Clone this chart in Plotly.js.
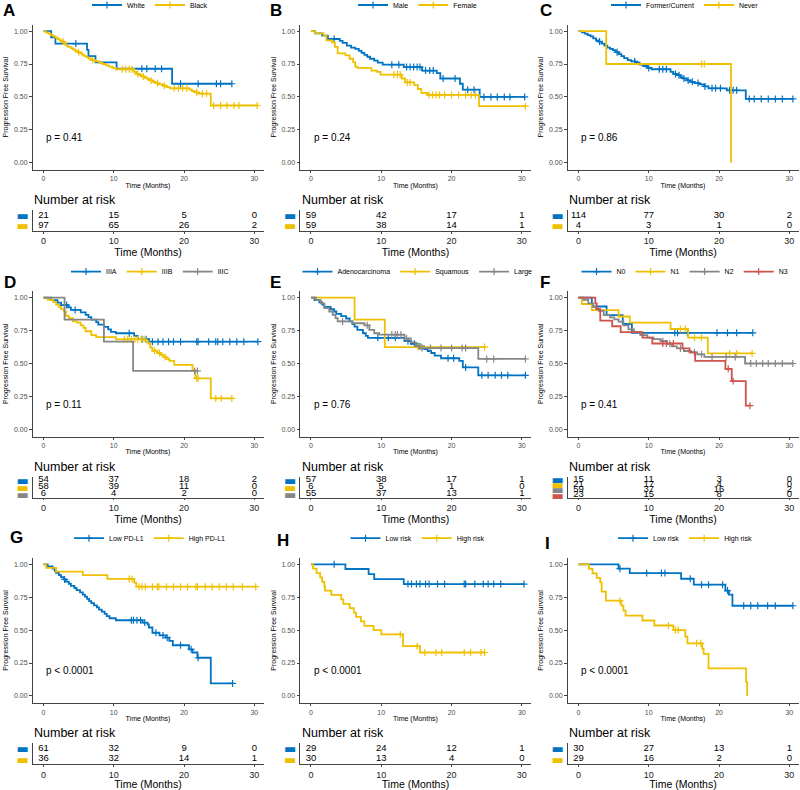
<!DOCTYPE html>
<html>
<head>
<meta charset="utf-8">
<script src="https://cdn.plot.ly/plotly-3.0.1.min.js"></script>
<style>html,body{margin:0;padding:0;background:#fff;}#chart{width:800px;height:790px;}</style>
</head>
<body>
<div id="chart"></div>
<script>
// ================= DATA =================
const xTicks = [0, 10, 20, 30];
const yTicks = [0, 0.25, 0.5, 0.75, 1];
const panelLetters = ['A', 'B', 'C', 'D', 'E', 'F', 'G', 'H', 'I'];
const pValues = ['p = 0.41', 'p = 0.24', 'p = 0.86', 'p = 0.11', 'p = 0.76', 'p = 0.41', 'p < 0.0001', 'p < 0.0001', 'p < 0.0001'];

// ---- A: race ----
const A_groups = ['White', 'Black'];
const A_White_time = [1.1, 1.7, 6.2, 6.4, 7.4, 10.4, 18.3];
const A_White_surv = [0.952, 0.905, 0.857, 0.810, 0.762, 0.714, 0.600];
const A_White_cens = [4.6, 14.0, 14.7, 15.9, 16.8, 19.5, 22.0, 24.6, 25.2, 26.8];
const A_White_risk = [21, 15, 5, 0];
const A_Black_time = [0.3, 0.7, 1.0, 1.4, 1.7, 2.0, 2.3, 2.6, 2.9, 3.2, 3.5, 3.9, 4.2, 4.5, 4.9, 5.2, 5.5, 5.8, 6.1, 6.5, 6.9, 7.4, 7.9, 8.4, 8.9, 9.3, 9.8, 10.3, 12.9, 13.2, 13.6, 14.0, 14.4, 14.8, 15.1, 15.5, 15.9, 16.4, 17.0, 17.5, 18.0, 20.8, 21.1, 21.5, 22.0, 23.8];
const A_Black_surv = [0.99, 0.98, 0.97, 0.96, 0.95, 0.94, 0.93, 0.92, 0.905, 0.89, 0.88, 0.87, 0.86, 0.85, 0.84, 0.83, 0.82, 0.81, 0.80, 0.79, 0.78, 0.77, 0.76, 0.75, 0.74, 0.73, 0.72, 0.71, 0.69, 0.675, 0.665, 0.655, 0.645, 0.635, 0.625, 0.615, 0.605, 0.595, 0.585, 0.575, 0.565, 0.555, 0.545, 0.535, 0.525, 0.435];
const A_Black_cens = [2.8, 5.0, 7.0, 11.2, 11.7, 12.2, 12.6, 13.4, 14.2, 15.3, 16.2, 17.2, 18.6, 19.2, 19.8, 20.4, 21.8, 22.6, 23.2, 24.2, 25.2, 26.1, 27.1, 27.8, 30.4];
const A_Black_risk = [97, 65, 26, 2];

// ---- B: sex ----
const B_groups = ['Male', 'Female'];
const B_Male_time = [0.6, 1.6, 2.4, 4.1, 4.5, 5.1, 5.7, 6.3, 6.8, 7.2, 7.6, 8.0, 8.4, 9.0, 9.5, 10.2, 13.2, 15.8, 17.9, 18.4, 21.2, 21.6, 24.0];
const B_Male_surv = [0.983, 0.966, 0.94, 0.925, 0.91, 0.89, 0.875, 0.865, 0.85, 0.835, 0.82, 0.805, 0.79, 0.775, 0.76, 0.745, 0.727, 0.70, 0.68, 0.64, 0.60, 0.555, 0.50];
const B_Male_cens = [3.3, 11.5, 12.5, 13.6, 14.1, 14.6, 15.1, 15.5, 16.3, 16.9, 17.4, 18.8, 20.5, 22.3, 23.2, 24.6, 25.6, 26.5, 27.5, 28.3, 30.4];
const B_Male_risk = [59, 42, 17, 1];
const B_Female_time = [0.6, 1.8, 2.2, 3.0, 3.4, 3.8, 4.9, 5.5, 6.0, 6.3, 6.6, 8.6, 9.4, 9.9, 12.9, 13.4, 14.7, 15.2, 15.7, 16.6, 23.9];
const B_Female_surv = [0.983, 0.966, 0.93, 0.915, 0.88, 0.83, 0.815, 0.79, 0.765, 0.73, 0.72, 0.70, 0.69, 0.67, 0.64, 0.61, 0.59, 0.56, 0.53, 0.515, 0.43];
const B_Female_cens = [11.8, 12.3, 12.7, 13.7, 14.1, 16.8, 17.3, 17.8, 18.3, 19.0, 20.0, 21.0, 22.0, 22.8, 23.4, 30.5];
const B_Female_risk = [59, 38, 14, 1];

// ---- C: smoking ----
const C_groups = ['Former/Current', 'Never'];
const C_Former_time = [0.5, 0.9, 1.3, 1.7, 2.1, 2.5, 2.9, 3.3, 3.7, 4.1, 4.5, 4.9, 5.3, 5.7, 6.1, 6.5, 7.0, 7.5, 8.1, 8.7, 9.2, 9.8, 10.4, 13.1, 13.5, 14.0, 14.5, 14.9, 15.4, 15.9, 16.5, 17.2, 17.9, 18.5, 21.1, 23.8];
const C_Former_surv = [0.99, 0.98, 0.97, 0.96, 0.945, 0.93, 0.92, 0.905, 0.89, 0.875, 0.865, 0.855, 0.84, 0.825, 0.81, 0.795, 0.78, 0.77, 0.76, 0.745, 0.735, 0.72, 0.71, 0.69, 0.675, 0.665, 0.65, 0.64, 0.625, 0.615, 0.605, 0.595, 0.58, 0.565, 0.55, 0.485];
const C_Former_cens = [3.0, 5.5, 8.0, 10.0, 11.5, 12.0, 12.5, 13.8, 14.3, 15.0, 15.6, 16.2, 17.0, 18.0, 19.0, 19.5, 20.2, 21.5, 22.0, 22.5, 24.3, 25.0, 26.0, 27.0, 28.0, 29.0, 30.5];
const C_Former_risk = [114, 77, 30, 2];
const C_Never_time = [3.95, 21.7];
const C_Never_surv = [0.75, 0];
const C_Never_cens = [17.5, 17.9];
const C_Never_risk = [4, 3, 1, 0];

// ---- D: stage ----
const D_groups = ['IIIA', 'IIIB', 'IIIC'];
const D_IIIA_time = [1.1, 2.0, 2.5, 3.5, 3.9, 5.3, 6.0, 6.4, 6.8, 7.5, 7.8, 8.6, 9.2, 9.6, 10.3, 12.9, 13.4, 15.0];
const D_IIIA_surv = [0.981, 0.963, 0.944, 0.926, 0.907, 0.889, 0.87, 0.852, 0.833, 0.815, 0.796, 0.778, 0.759, 0.741, 0.73, 0.71, 0.685, 0.666];
const D_IIIA_cens = [3.3, 4.5, 12.2, 14.0, 14.6, 15.5, 16.3, 17.0, 17.8, 18.5, 19.5, 21.8, 22.0, 23.5, 24.5, 24.8, 25.5, 26.5, 27.5, 28.5, 30.5];
const D_IIIA_risk = [54, 37, 18, 2];
const D_IIIB_time = [0.6, 1.4, 1.8, 2.2, 2.5, 2.9, 3.2, 3.6, 4.2, 4.8, 5.3, 5.7, 6.0, 6.8, 7.5, 10.3, 14.6, 14.9, 15.2, 15.5, 16.2, 16.7, 17.1, 17.5, 17.9, 18.6, 21.2, 21.6, 23.8];
const D_IIIB_surv = [0.983, 0.966, 0.948, 0.93, 0.913, 0.895, 0.862, 0.845, 0.82, 0.81, 0.79, 0.77, 0.745, 0.716, 0.70, 0.684, 0.668, 0.652, 0.62, 0.597, 0.58, 0.565, 0.55, 0.535, 0.52, 0.49, 0.45, 0.387, 0.235];
const D_IIIB_cens = [11.5, 12.0, 12.5, 13.0, 13.4, 13.9, 14.3, 15.8, 16.5, 17.3, 21.8, 22.0, 24.5, 25.3, 26.8];
const D_IIIB_risk = [58, 39, 11, 0];
const D_IIIC_time = [3.0, 8.6, 12.75];
const D_IIIC_surv = [0.833, 0.667, 0.444];
const D_IIIC_cens = [21.5, 21.9];
const D_IIIC_risk = [6, 4, 2, 0];

// ---- E: histology ----
const E_groups = ['Adenocarcinoma', 'Squamous', 'Large'];
const E_Adeno_time = [0.5, 1.2, 1.6, 1.9, 2.8, 3.3, 3.6, 4.3, 5.0, 5.5, 5.9, 6.2, 6.6, 7.4, 7.8, 8.1, 13.3, 14.2, 15.2, 16.1, 16.6, 17.1, 17.6, 18.5, 21.1, 21.6, 23.8];
const E_Adeno_surv = [0.982, 0.965, 0.947, 0.93, 0.912, 0.895, 0.877, 0.86, 0.842, 0.82, 0.80, 0.78, 0.756, 0.73, 0.71, 0.695, 0.67, 0.65, 0.63, 0.61, 0.595, 0.58, 0.56, 0.54, 0.52, 0.47, 0.41];
const E_Adeno_cens = [9.5, 11.0, 12.0, 13.8, 14.7, 15.5, 19.5, 20.3, 22.0, 24.3, 25.2, 26.2, 27.1, 28.0, 30.5];
const E_Adeno_risk = [57, 38, 17, 1];
const E_Squam_time = [6.2, 10.5];
const E_Squam_surv = [0.833, 0.625];
const E_Squam_cens = [15.2, 15.7, 24.7];
const E_Squam_risk = [6, 5, 1, 0];
const E_Large_time = [0.7, 1.4, 1.9, 2.6, 3.1, 3.5, 3.8, 5.9, 7.6, 8.3, 9.0, 9.7, 13.3, 14.2, 14.9, 15.4, 23.8];
const E_Large_surv = [0.982, 0.957, 0.92, 0.895, 0.87, 0.844, 0.82, 0.806, 0.79, 0.756, 0.73, 0.72, 0.69, 0.66, 0.63, 0.617, 0.535];
const E_Large_cens = [4.5, 8.0, 11.5, 12.0, 12.3, 12.8, 13.6, 15.8, 17.0, 18.5, 20.0, 21.5, 22.0, 25.0, 26.0, 30.5];
const E_Large_risk = [55, 37, 13, 1];

// ---- F: nodal status ----
const F_groups = ['N0', 'N1', 'N2', 'N3'];
const F_N0_time = [1.9, 4.0, 6.3, 7.6];
const F_N0_surv = [0.933, 0.867, 0.80, 0.733];
const F_N0_cens = [13.7, 14.1, 15.5, 19.7, 21.2, 22.5, 24.8];
const F_N0_risk = [15, 11, 3, 0];
const F_N1_time = [0.5, 1.9, 5.7, 7.3, 13.1, 15.6, 18.4];
const F_N1_surv = [0.952, 0.905, 0.857, 0.81, 0.762, 0.696, 0.577];
const F_N1_cens = [14.5, 15.2, 16.5, 17.5, 21.5, 22.5, 24.7];
const F_N1_risk = [21, 17, 4, 0];
const F_N2_time = [0.7, 1.4, 2.1, 2.5, 2.9, 3.6, 4.5, 5.1, 5.7, 6.4, 7.1, 7.9, 8.8, 9.8, 10.7, 11.7, 12.6, 13.3, 14.0, 15.0, 16.0, 16.9, 17.9, 23.7];
const F_N2_surv = [0.983, 0.957, 0.93, 0.915, 0.90, 0.868, 0.85, 0.835, 0.818, 0.79, 0.76, 0.74, 0.716, 0.696, 0.686, 0.67, 0.65, 0.63, 0.615, 0.595, 0.585, 0.57, 0.55, 0.50];
const F_N2_cens = [12.0, 13.0, 14.5, 16.5, 17.5, 19.0, 21.0, 22.3, 24.5, 25.3, 26.2, 27.0, 28.0, 29.0, 30.5];
const F_N2_risk = [59, 37, 16, 2];
const F_N3_time = [2.4, 2.6, 3.1, 4.8, 6.0, 9.1, 10.5, 14.8, 15.8, 16.6, 20.9, 21.8, 23.8];
const F_N3_surv = [0.957, 0.913, 0.826, 0.783, 0.739, 0.696, 0.652, 0.615, 0.585, 0.52, 0.46, 0.367, 0.18];
const F_N3_cens = [12.0, 12.5, 13.5, 21.3, 22.0, 24.4];
const F_N3_risk = [23, 15, 8, 0];

// ---- G: PD-L1 ----
const G_groups = ['Low PD-L1', 'High PD-L1'];
const G_Low_time = [0.6, 1.3, 1.6, 1.8, 2.2, 2.5, 2.9, 3.2, 3.6, 3.9, 4.4, 4.7, 5.2, 5.6, 5.9, 6.2, 6.5, 6.8, 7.2, 7.6, 7.9, 8.3, 8.7, 9.0, 9.4, 10.3, 14.1, 14.8, 15.0, 15.5, 16.5, 17.4, 17.9, 18.4, 20.7, 21.2, 21.9, 23.8];
const G_Low_surv = [0.984, 0.967, 0.951, 0.934, 0.918, 0.902, 0.885, 0.869, 0.852, 0.836, 0.82, 0.803, 0.787, 0.77, 0.754, 0.738, 0.72, 0.705, 0.688, 0.672, 0.656, 0.64, 0.623, 0.607, 0.59, 0.575, 0.557, 0.544, 0.52, 0.48, 0.46, 0.443, 0.418, 0.385, 0.354, 0.33, 0.29, 0.095];
const G_Low_cens = [3.0, 12.5, 12.8, 13.3, 13.8, 14.4, 16.0, 17.0, 17.6, 19.5, 21.0, 22.0, 26.9];
const G_Low_risk = [61, 32, 9, 0];
const G_High_time = [0.4, 1.8, 5.6, 9.1, 12.9, 13.2];
const G_High_surv = [0.972, 0.944, 0.917, 0.889, 0.861, 0.83];
const G_High_cens = [12.2, 12.6, 13.6, 14.0, 14.5, 15.5, 16.2, 16.4, 17.5, 18.5, 19.5, 20.5, 21.7, 21.9, 23.0, 24.0, 25.0, 26.0, 27.0, 28.3, 30.2];
const G_High_risk = [36, 32, 14, 1];

// ---- H: risk score (training) ----
const H_groups = ['Low risk', 'High risk'];
const H_Low_time = [4.9, 8.2, 9.0, 13.2];
const H_Low_surv = [0.964, 0.926, 0.888, 0.85];
const H_Low_cens = [3.3, 13.8, 14.3, 15.0, 15.5, 16.3, 16.8, 18.0, 19.0, 21.8, 22.0, 23.3, 24.5, 25.2, 26.0, 27.0, 30.3];
const H_Low_risk = [29, 24, 12, 1];
const H_High_time = [0.3, 0.8, 1.3, 1.6, 1.9, 2.0, 2.9, 4.3, 4.6, 5.5, 6.1, 6.4, 7.1, 7.6, 8.9, 10.0, 13.1, 15.5];
const H_High_surv = [0.967, 0.933, 0.90, 0.867, 0.833, 0.80, 0.767, 0.733, 0.70, 0.667, 0.633, 0.60, 0.567, 0.533, 0.50, 0.467, 0.378, 0.33];
const H_High_cens = [12.7, 15.1, 16.2, 17.8, 18.6, 21.8, 22.7, 24.2, 24.7];
const H_High_risk = [30, 13, 4, 0];

// ---- I: risk score (validation) ----
const I_groups = ['Low risk', 'High risk'];
const I_Low_time = [5.7, 7.3, 14.6, 16.4, 20.9, 21.4, 21.9];
const I_Low_surv = [0.967, 0.933, 0.89, 0.845, 0.80, 0.77, 0.685];
const I_Low_cens = [5.9, 9.7, 11.8, 12.3, 15.9, 17.5, 18.5, 20.5, 21.2, 23.5, 24.5, 25.5, 26.9, 28.0, 30.5];
const I_Low_risk = [30, 27, 13, 1];
const I_High_time = [1.5, 2.0, 2.6, 3.1, 3.3, 3.9, 6.1, 6.4, 6.7, 9.1, 10.8, 13.5, 15.2, 15.5, 17.6, 17.8, 18.5, 23.85, 24.0];
const I_High_surv = [0.966, 0.931, 0.897, 0.862, 0.793, 0.724, 0.686, 0.648, 0.61, 0.573, 0.535, 0.50, 0.45, 0.40, 0.36, 0.32, 0.21, 0.105, 0];
const I_High_cens = [5.9, 12.8, 13.8, 14.2, 16.8, 17.4];
const I_High_risk = [29, 16, 2, 0];

// ================= ASSEMBLY =================
function S(name, time, surv, cens, risk) { return {name, time, surv, cens, risk}; }
const panels = [
  [S(A_groups[0], A_White_time, A_White_surv, A_White_cens, A_White_risk), S(A_groups[1], A_Black_time, A_Black_surv, A_Black_cens, A_Black_risk)],
  [S(B_groups[0], B_Male_time, B_Male_surv, B_Male_cens, B_Male_risk), S(B_groups[1], B_Female_time, B_Female_surv, B_Female_cens, B_Female_risk)],
  [S(C_groups[0], C_Former_time, C_Former_surv, C_Former_cens, C_Former_risk), S(C_groups[1], C_Never_time, C_Never_surv, C_Never_cens, C_Never_risk)],
  [S(D_groups[0], D_IIIA_time, D_IIIA_surv, D_IIIA_cens, D_IIIA_risk), S(D_groups[1], D_IIIB_time, D_IIIB_surv, D_IIIB_cens, D_IIIB_risk), S(D_groups[2], D_IIIC_time, D_IIIC_surv, D_IIIC_cens, D_IIIC_risk)],
  [S(E_groups[0], E_Adeno_time, E_Adeno_surv, E_Adeno_cens, E_Adeno_risk), S(E_groups[1], E_Squam_time, E_Squam_surv, E_Squam_cens, E_Squam_risk), S(E_groups[2], E_Large_time, E_Large_surv, E_Large_cens, E_Large_risk)],
  [S(F_groups[0], F_N0_time, F_N0_surv, F_N0_cens, F_N0_risk), S(F_groups[1], F_N1_time, F_N1_surv, F_N1_cens, F_N1_risk), S(F_groups[2], F_N2_time, F_N2_surv, F_N2_cens, F_N2_risk), S(F_groups[3], F_N3_time, F_N3_surv, F_N3_cens, F_N3_risk)],
  [S(G_groups[0], G_Low_time, G_Low_surv, G_Low_cens, G_Low_risk), S(G_groups[1], G_High_time, G_High_surv, G_High_cens, G_High_risk)],
  [S(H_groups[0], H_Low_time, H_Low_surv, H_Low_cens, H_Low_risk), S(H_groups[1], H_High_time, H_High_surv, H_High_cens, H_High_risk)],
  [S(I_groups[0], I_Low_time, I_Low_surv, I_Low_cens, I_Low_risk), S(I_groups[1], I_High_time, I_High_surv, I_High_cens, I_High_risk)]
];

// ================= STYLE =================
const W = 800, H = 790;
const colW = 267.5, rowH = 266.6;
const palette = ['#0073C2', '#EFC000', '#868686', '#CD534C'];
const FONT = 'Liberation Sans, Arial, Helvetica, sans-serif';
const AX = '#444';
const letterPos = [[1, 11], [0, 11], [3, 11], [2, 15.5], [0, 15.5], [3, 15.5], [8, 4.5], [7.5, 7.5], [8, 10]];

function id(n) { return n === 1 ? '' : String(n); }
function survAt(time, surv, t) { let s = 1; for (let i = 0; i < time.length; i++) { if (time[i] <= t) s = surv[i]; } return s; }

const traces = [];
const layout = {
  width: W, height: H, margin: {l: 0, r: 0, t: 0, b: 0, autoexpand: false},
  paper_bgcolor: '#fff', plot_bgcolor: '#fff',
  font: {family: FONT, color: '#000'},
  showlegend: true, annotations: [], hovermode: false
};

panels.forEach((strata, k) => {
  const c = k % 3, r = Math.floor(k / 3);
  const ox = c * colW, oy = r * rowH;
  const ia = 2 * k + 1, ib = 2 * k + 2;
  const legId = 'legend' + id(k + 1);
  const n = strata.length;

  strata.forEach((st, i) => {
    const col = palette[i];
    const lastT = st.time[st.time.length - 1];
    const end = Math.max(lastT, ...st.cens);
    const xs = [0, ...st.time], ys = [1, ...st.surv];
    if (end > lastT) { xs.push(end); ys.push(st.surv[st.surv.length - 1]); }
    traces.push({x: xs, y: ys, type: 'scatter', mode: 'lines', line: {shape: 'hv', color: col, width: 1.8},
      xaxis: 'x' + id(ia), yaxis: 'y' + id(ia), showlegend: false, hoverinfo: 'skip'});
    const cx = [], cy = [];
    st.cens.forEach(t => { cx.push(t, null); cy.push(survAt(st.time, st.surv, t), null); });
    traces.push({x: cx, y: cy, type: 'scatter', mode: 'lines+markers', name: st.name, connectgaps: false,
      line: {color: col, width: 1.8},
      marker: {symbol: 'cross-thin', size: 5, color: col, line: {color: col, width: 1.2}},
      xaxis: 'x' + id(ia), yaxis: 'y' + id(ia), legend: legId, showlegend: true, hoverinfo: 'skip'});
    // risk table numbers
    traces.push({x: xTicks, y: xTicks.map(() => i + 1), text: st.risk.map(String), type: 'scatter', mode: 'text',
      textposition: 'middle center', textfont: {size: 9.5, color: '#000', family: FONT},
      xaxis: 'x' + id(ib), yaxis: 'y' + id(ib), showlegend: false, hoverinfo: 'skip', cliponaxis: false});
  });

  const xdom = [(ox + 32.5) / W, (ox + 263.5) / W];
  const xrange = [-1.56, 31.3];
  layout['xaxis' + id(ia)] = {domain: xdom, range: xrange, anchor: 'y' + id(ia), tickvals: xTicks,
    ticks: 'outside', ticklen: 2, tickwidth: 1, tickcolor: AX, showline: true, linecolor: AX, linewidth: 1,
    showgrid: false, zeroline: false, fixedrange: true, tickfont: {size: 7, color: '#4d4d4d'},
    title: {text: 'Time (Months)', font: {size: 7, color: '#000'}, standoff: 1}};
  layout['yaxis' + id(ia)] = {domain: [1 - (oy + 170) / H, 1 - (oy + 24.5) / H], range: [-0.055, 1.05], anchor: 'x' + id(ia),
    tickvals: yTicks, tickformat: '.2f', ticks: 'outside', ticklen: 2.5, tickwidth: 1, tickcolor: AX,
    showline: true, linecolor: AX, linewidth: 1, showgrid: false, zeroline: false, fixedrange: true,
    tickfont: {size: 7, color: '#4d4d4d'},
    title: {text: 'Progression Free Survival', font: {size: 7, color: '#000'}, standoff: 4}};
  layout['xaxis' + id(ib)] = {domain: xdom, range: xrange, anchor: 'y' + id(ib), tickvals: xTicks,
    ticks: 'outside', ticklen: 1.5, tickwidth: 1, tickcolor: AX, showline: true, linecolor: AX, linewidth: 1,
    showgrid: false, zeroline: false, fixedrange: true, tickfont: {size: 9, color: '#222'},
    title: {text: 'Time (Months)', font: {size: 10.5, color: '#000'}, standoff: 0}};
  layout['yaxis' + id(ib)] = {domain: [1 - (oy + 231) / H, 1 - (oy + 210) / H], range: [n + 0.5, 0.5], anchor: 'x' + id(ib),
    tickvals: strata.map((s, i) => i + 1),
    ticktext: strata.map((s, i) => '<span style="color:' + palette[i] + '">▬</span>'),
    ticks: '', showline: true, linecolor: AX, linewidth: 1, showgrid: false, zeroline: false, fixedrange: true,
    tickfont: {size: 13, family: 'DejaVu Sans'}};

  layout[legId] = {orientation: 'h', x: (ox + 150) / W, xanchor: 'center', y: 1 - (oy + 5) / H, yanchor: 'middle',
    font: {size: 7, color: '#000'}, bgcolor: 'rgba(0,0,0,0)', itemwidth: 30, tracegroupgap: 0,
    itemclick: false, itemdoubleclick: false};

  layout.annotations.push({xref: 'paper', yref: 'paper', x: (ox + letterPos[k][0]) / W, y: 1 - (oy + letterPos[k][1]) / H,
    xanchor: 'left', yanchor: 'middle', text: '<b>' + panelLetters[k] + '</b>', showarrow: false,
    font: {size: 17, family: FONT, color: '#000'}});
  layout.annotations.push({xref: 'x' + id(ia), yref: 'y' + id(ia), x: 0.1, y: 0.19, xanchor: 'left', yanchor: 'middle',
    text: pValues[k], showarrow: false, font: {size: 10, family: FONT, color: '#000'}});
  layout.annotations.push({xref: 'paper', yref: 'paper', x: (ox + 32) / W, y: 1 - (oy + 200) / H, xanchor: 'left', yanchor: 'middle',
    text: 'Number at risk', showarrow: false, font: {size: 12.5, family: FONT, color: '#000'}});
});

Plotly.newPlot('chart', traces, layout, {staticPlot: true, displayModeBar: false});
</script>
</body>
</html>
